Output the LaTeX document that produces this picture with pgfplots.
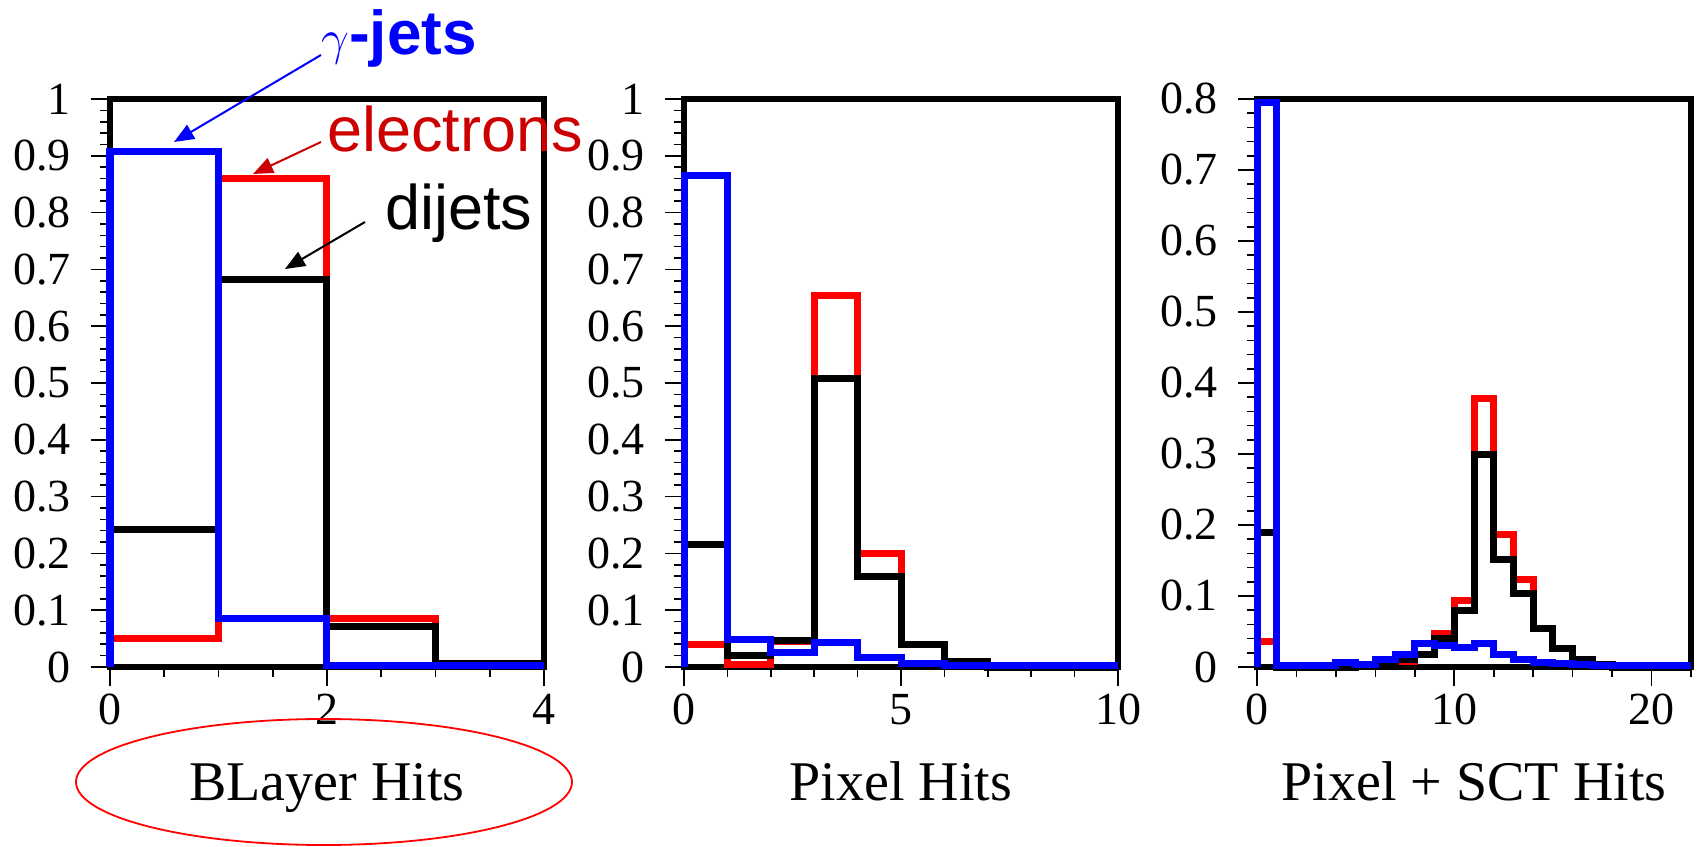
\documentclass[border=0pt]{standalone}
\usepackage{pgfplots}
\pgfplotsset{compat=1.18}
\usepackage{fontspec}
\setmainfont{Liberation Serif}
\newfontfamily\arial{Liberation Sans}
\usetikzlibrary{arrows.meta}
\definecolor{hred}{RGB}{255,0,0}
\definecolor{hblue}{RGB}{0,0,255}
\definecolor{labred}{RGB}{204,0,0}

\pgfplotsset{
  hist/.style={const plot, mark=none, line width=3.5bp},
  hitpanel/.style={
    scale only axis, width=217bp, height=284bp, anchor=south west,
    axis line style={line width=3.4bp},
    tick align=outside, xtick pos=left, ytick pos=left,
    major tick length=9.5bp, minor tick length=5bp,
    every tick/.append style={black, line width=0.8bp},
    ymin=0, clip=false, axis on top=false,
    /pgf/number format/assume math mode=true,
    /pgf/number format/fixed,
    ticklabel style={font=\fontsize{23bp}{23bp}\selectfont, inner sep=0pt},
    yticklabel style={xshift=-10bp},
    xticklabel style={yshift=-4bp},
    xlabel style={font=\fontsize{28bp}{28bp}\selectfont,
      at={(axis description cs:0.5,0)}, anchor=base, yshift=-66.5bp},
  },
}

\begin{document}
\begin{tikzpicture}
\path[use as bounding box] (0,0) rectangle (850.5bp,423.5bp);

% B-layer hits
\begin{axis}[hitpanel, at={(55bp,90bp)},
  xmin=0, xmax=4, ymax=1,
  xtick={0,2,4}, minor x tick num=3,
  ytick={0,0.1,0.2,0.3,0.4,0.5,0.6,0.7,0.8,0.9,1}, minor y tick num=4,
  xlabel={BLayer Hits}]
\addplot[hist, hred] coordinates {(0,0) (0,0.050) (1,0.860) (2,0.085) (3,0.003) (4,0.003)};
\addplot[hist, black] coordinates {(0,0) (0,0.242) (1,0.683) (2,0.071) (3,0.007) (4,0.007)};
\addplot[hist, hblue] coordinates {(0,0) (0,0.908) (1,0.085) (2,0.003) (3,0.003) (4,0.003)};
\end{axis}

% pixel hits
\begin{axis}[hitpanel, at={(342bp,90bp)},
  xmin=0, xmax=10, ymax=1,
  xtick={0,5,10}, minor x tick num=4,
  ytick={0,0.1,0.2,0.3,0.4,0.5,0.6,0.7,0.8,0.9,1}, minor y tick num=4,
  xlabel={Pixel Hits}]
\addplot[hist, hred] coordinates {(0,0) (0,0.040) (1,0.005) (2,0.045) (3,0.654) (4,0.200)
  (5,0.040) (6,0.009) (7,0.002) (8,0.001) (9,0.001) (10,0.001)};
\addplot[hist, black] coordinates {(0,0) (0,0.215) (1,0.020) (2,0.046) (3,0.508) (4,0.160)
  (5,0.040) (6,0.009) (7,0) (8,0) (9,0) (10,0)};
\addplot[hist, hblue] coordinates {(0,0) (0,0.866) (1,0.049) (2,0.025) (3,0.044) (4,0.016)
  (5,0.007) (6,0.003) (7,0.003) (8,0.003) (9,0.003) (10,0.003)};
\end{axis}

% pixel + SCT hits
\begin{axis}[hitpanel, at={(628.5bp,90bp)},
  xmin=0, xmax=22, ymax=0.8,
  xtick={0,10,20}, minor xtick={2,4,6,8,12,14,16,18,22},
  ytick={0,0.1,0.2,0.3,0.4,0.5,0.6,0.7,0.8}, minor y tick num=4,
  xlabel={Pixel + SCT Hits}]
\addplot[hist, hred] coordinates {(0,0) (0,0.036) (1,0) (2,0) (3,0) (4,0.001) (5,0.002)
  (6,0.004) (7,0.008) (8,0.018) (9,0.047) (10,0.093) (11,0.378) (12,0.187) (13,0.123)
  (14,0.054) (15,0.026) (16,0.010) (17,0.004) (18,0.001) (19,0) (20,0) (21,0) (22,0)};
\addplot[hist, black] coordinates {(0,0) (0,0.190) (1,0) (2,0) (3,0) (4,0) (5,0.002)
  (6,0.004) (7,0.010) (8,0.018) (9,0.040) (10,0.079) (11,0.300) (12,0.152) (13,0.103)
  (14,0.054) (15,0.026) (16,0.010) (17,0.004) (18,0) (19,0) (20,0) (21,0) (22,0)};
\addplot[hist, hblue] coordinates {(0,0) (0,0.795) (1,0.002) (2,0.002) (3,0.002) (4,0.007)
  (5,0.004) (6,0.011) (7,0.018) (8,0.033) (9,0.030) (10,0.027) (11,0.033) (12,0.018)
  (13,0.011) (14,0.007) (15,0.005) (16,0.003) (17,0.002) (18,0.002) (19,0.002) (20,0.002)
  (21,0.002) (22,0.002)};
\end{axis}

% series annotations
\node[anchor=base west, inner sep=0pt, text=hblue, font=\arial\bfseries\fontsize{31bp}{31bp}\selectfont]
  at (160.5bp,396bp) {$\gamma$-jets};
\node[anchor=base west, inner sep=0pt, text=labred, font=\arial\fontsize{31.5bp}{31.5bp}\selectfont]
  at (163.5bp,347.5bp) {electrons};
\node[anchor=base west, inner sep=0pt, text=black, font=\arial\fontsize{31.5bp}{31.5bp}\selectfont]
  at (192.5bp,308.5bp) {dijets};
\draw[hblue, line width=1bp, -{Triangle[length=10bp,width=8bp]}] (160.5bp,396bp) -- (87bp,352.5bp);
\draw[labred, line width=1bp, -{Triangle[length=10bp,width=8bp]}] (160.5bp,352.5bp) -- (126.5bp,336.5bp);
\draw[black, line width=1bp, -{Triangle[length=10bp,width=8bp]}] (182.5bp,312.5bp) -- (142.5bp,289bp);

% highlight around the first axis title
\draw[hred, line width=0.9bp] (162bp,32.5bp) ellipse [x radius=124bp, y radius=31.5bp];
\end{tikzpicture}
\end{document}
